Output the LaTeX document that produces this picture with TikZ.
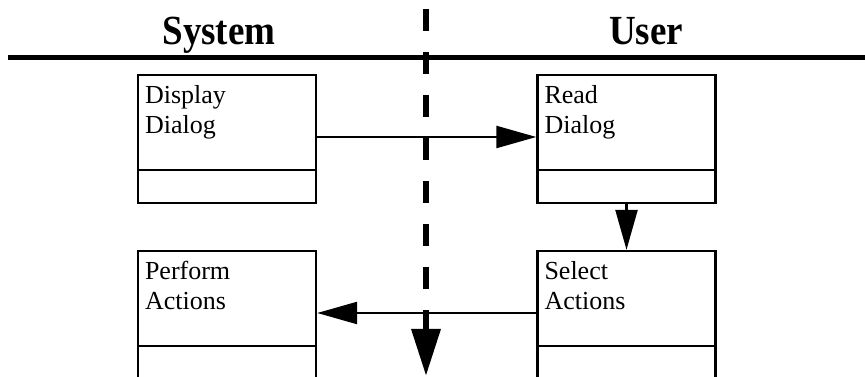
\documentclass[tikz,border=0pt]{standalone}
\usepackage{fontspec}
\setmainfont{Liberation Serif}
\usetikzlibrary{arrows.meta}
\newcommand{\lanetitle}[1]{\scalebox{1}[1.12]{#1}}
\begin{document}
\begin{tikzpicture}[x=1pt,y=1pt]
  \tikzstyle{activity}=[rectangle,draw=black,line width=2.4pt,minimum width=178pt,minimum height=128pt,inner sep=0pt]
  \tikzstyle{actname}=[anchor=north west,inner sep=0pt,align=left,font=\fontsize{26}{30}\selectfont]
  \tikzstyle{lane}=[anchor=base,inner sep=0pt,font=\fontsize{37}{40}\selectfont\bfseries]
  \tikzstyle{flow}=[draw,line width=2.4pt,-{Triangle[length=40pt,width=22pt]}]
  \useasboundingbox (0,0) rectangle (865,377);
  % lane titles and header rule
  \node [lane] (sys) at (219,332) {\lanetitle{System}};
  \node [lane] (usr) at (646,332) {\lanetitle{User}};
  \coordinate (hl) at (8,319);
  \coordinate (hr) at (865,319);
  \draw [line width=5pt] (hl) -- (hr);
  % activities
  \node [activity] (disp) at (227,238) {};
  \node [activity] (read) at (626.5,238) {};
  \node [activity] (perf) at (227,62) {};
  \node [activity] (sel) at (626.5,62) {};
  \node [actname] (dispname) at ([xshift=8pt,yshift=-11pt]disp.north west) {Display\\Dialog};
  \node [actname] (readname) at ([xshift=8pt,yshift=-11pt]read.north west) {Read\\Dialog};
  \node [actname] (perfname) at ([xshift=8pt,yshift=-11pt]perf.north west) {Perform\\Actions};
  \node [actname] (selname) at ([xshift=8pt,yshift=-11pt]sel.north west) {Select\\Actions};
  \foreach \a in {disp,read,perf,sel}
    \draw [line width=2.4pt] ([yshift=34pt]\a.south west) -- ([yshift=34pt]\a.south east);
  % lane boundary
  \coordinate (dtop) at (426,368);
  \coordinate (dbot) at (426,1);
  \draw [line width=6.5pt,dash pattern=on 22pt off 21pt,-{Triangle[length=47pt,width=28pt]}] (dtop) -- (dbot);
  % control flow
  \path [flow] ([yshift=2pt]disp.east) -- ([yshift=2pt]read.west);
  \path [flow] (read.south) -- (sel.north);
  \path [flow] ([yshift=2pt]sel.west) -- ([yshift=2pt]perf.east);
\end{tikzpicture}
\end{document}
